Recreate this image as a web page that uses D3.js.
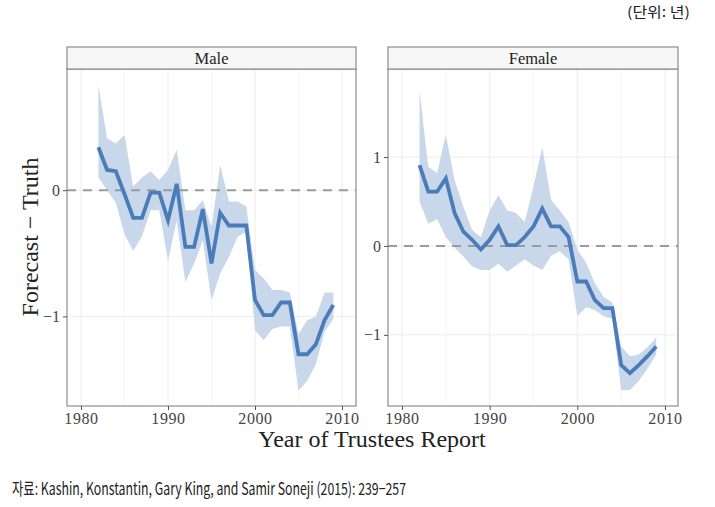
<!DOCTYPE html>
<html><head><meta charset="utf-8">
<script src="https://cdn.jsdelivr.net/npm/d3@7"></script>
<style>body{margin:0;background:#fff;} svg{display:block;}</style>
</head><body>
<svg id="c" width="715" height="507"></svg>
<script>
const years = d3.range(1982, 2010);
const maleMean  = [0.34,0.16,0.15,-0.03,-0.22,-0.22,-0.02,-0.02,-0.24,0.05,-0.45,-0.45,-0.15,-0.58,-0.18,-0.28,-0.28,-0.28,-0.87,-0.99,-0.99,-0.89,-0.89,-1.30,-1.30,-1.22,-1.03,-0.91];
const maleUpper = [0.83,0.41,0.37,0.44,0.03,0.10,0.15,0.08,0.16,0.32,-0.16,-0.16,-0.08,-0.29,0.20,-0.09,-0.09,-0.13,-0.63,-0.70,-0.79,-0.79,-0.81,-1.14,-1.03,-1.00,-0.81,-0.81];
const maleLower = [0.10,0.00,-0.10,-0.35,-0.48,-0.37,-0.16,-0.16,-0.56,-0.24,-0.73,-0.58,-0.40,-0.87,-0.66,-0.53,-0.37,-0.33,-1.11,-1.19,-1.10,-1.08,-1.08,-1.59,-1.51,-1.38,-1.12,-1.02];
const femMean  = [0.91,0.61,0.61,0.76,0.37,0.16,0.07,-0.04,0.07,0.22,0.01,0.01,0.10,0.22,0.42,0.22,0.22,0.10,-0.40,-0.40,-0.61,-0.70,-0.70,-1.34,-1.43,-1.34,-1.24,-1.13];
const femUpper = [1.74,0.89,0.82,1.25,0.74,0.44,0.18,0.10,0.40,0.57,0.40,0.37,0.27,0.67,1.11,0.52,0.40,0.27,-0.04,-0.19,-0.42,-0.57,-0.64,-1.13,-1.24,-1.22,-1.14,-1.03];
const femLower = [0.50,0.25,0.30,0.10,-0.02,-0.12,-0.23,-0.27,-0.27,-0.20,-0.29,-0.22,-0.15,-0.22,-0.27,-0.11,-0.06,-0.15,-0.79,-0.69,-0.72,-0.79,-0.82,-1.62,-1.62,-1.52,-1.38,-1.22];
const xTicks = [1980,1990,2000,2010];
const panels = [
  {name:"Male", mean:maleMean, upper:maleUpper, lower:maleLower, yDomain:[-1.71,0.96], yTicks:[-1,0], x0:67, x1:356, xr:[81,342]},
  {name:"Female", mean:femMean, upper:femUpper, lower:femLower, yDomain:[-1.80,1.99], yTicks:[-1,0,1], x0:388, x1:678, xr:[402,665]}
];
const svg = d3.select("#c");
const pTop = 69, pBottom = 406, stripTop = 47;
const serif = "'Liberation Serif','DejaVu Serif',serif";
const fmt = v => v < 0 ? "\u2212" + Math.abs(v) : String(v);

panels.forEach(p => {
  const x = d3.scaleLinear().domain([1980,2010]).range(p.xr);
  const y = d3.scaleLinear().domain(p.yDomain).range([pBottom, pTop]);
  const g = svg.append("g");
  g.selectAll(".vg").data(xTicks.concat([1985,1995,2005])).join("line")
    .attr("x1", d=>x(d)).attr("x2", d=>x(d)).attr("y1", pTop).attr("y2", pBottom)
    .attr("stroke", d=>d%10===0?"#ececec":"#f6f6f6").attr("stroke-width", 1);
  g.selectAll(".hg").data(p.yTicks).join("line")
    .attr("x1", p.x0).attr("x2", p.x1).attr("y1", d=>y(d)).attr("y2", d=>y(d))
    .attr("stroke", "#ececec").attr("stroke-width", 1);
  const area = d3.area().x((d,i)=>x(years[i])).y0((d,i)=>y(p.lower[i])).y1((d,i)=>y(p.upper[i]));
  g.append("path").datum(p.mean).attr("d", area).attr("fill", "#c9d7ea");
  g.append("line").attr("x1", p.x0).attr("x2", p.x1).attr("y1", y(0)).attr("y2", y(0))
    .attr("stroke", "#9a9a9a").attr("stroke-width", 2).attr("stroke-dasharray", "9,7");
  const line = d3.line().x((d,i)=>x(years[i])).y(d=>y(d));
  g.append("path").datum(p.mean).attr("d", line).attr("fill","none")
    .attr("stroke", "#4a7cba").attr("stroke-width", 3.8).attr("stroke-linejoin","miter");
  g.append("rect").attr("x", p.x0).attr("y", pTop).attr("width", p.x1-p.x0).attr("height", pBottom-pTop)
    .attr("fill","none").attr("stroke","#8c8c8c").attr("stroke-width",1.2);
  g.append("rect").attr("x", p.x0).attr("y", stripTop).attr("width", p.x1-p.x0).attr("height", pTop-stripTop)
    .attr("fill","#f7f7f7").attr("stroke","#8c8c8c").attr("stroke-width",1.2);
  g.append("text").attr("x",(p.x0+p.x1)/2).attr("y",(stripTop+pTop)/2+5.5).attr("text-anchor","middle")
    .attr("font-family",serif).attr("font-size",16.5).attr("fill","#222").text(p.name);
  const xa = g.append("g").attr("transform",`translate(0,${pBottom})`)
    .call(d3.axisBottom(x).tickValues(xTicks).tickFormat(d3.format("d")).tickSize(4).tickPadding(3));
  xa.select(".domain").remove();
  xa.selectAll("line").attr("stroke","#555");
  xa.selectAll("text").attr("font-family",serif).attr("font-size",16).attr("letter-spacing","0.6px").attr("fill","#444");
  const ya = g.append("g").attr("transform",`translate(${p.x0},0)`)
    .call(d3.axisLeft(y).tickValues(p.yTicks).tickFormat(fmt).tickSize(4).tickPadding(3));
  ya.select(".domain").remove();
  ya.selectAll("line").attr("stroke","#555");
  ya.selectAll("text").attr("font-family",serif).attr("font-size",16).attr("fill","#444");
});

svg.append("text").attr("x",372).attr("y",447).attr("text-anchor","middle")
  .attr("font-family",serif).attr("font-size",24).attr("fill","#222").text("Year of Trustees Report");
svg.append("text").attr("transform","translate(38,237) rotate(-90)").attr("text-anchor","middle")
  .attr("font-family",serif).attr("font-size",24).attr("fill","#222").text("Forecast \u2212 Truth");
svg.append("text").attr("x",12).attr("y",495).attr("textLength",394).attr("lengthAdjust","spacingAndGlyphs")
  .attr("font-family","'Noto Sans CJK KR','Noto Sans',sans-serif").attr("font-size",17).attr("fill","#222")
  .text("자료: Kashin, Konstantin, Gary King, and Samir Soneji (2015): 239−257");
svg.append("text").attr("x",627).attr("y",17).attr("textLength",63).attr("lengthAdjust","spacingAndGlyphs")
  .attr("font-family","'Noto Sans CJK KR','Noto Sans',sans-serif").attr("font-size",14).attr("fill","#222")
  .text("(단위: 년)");
</script>
</body></html>
